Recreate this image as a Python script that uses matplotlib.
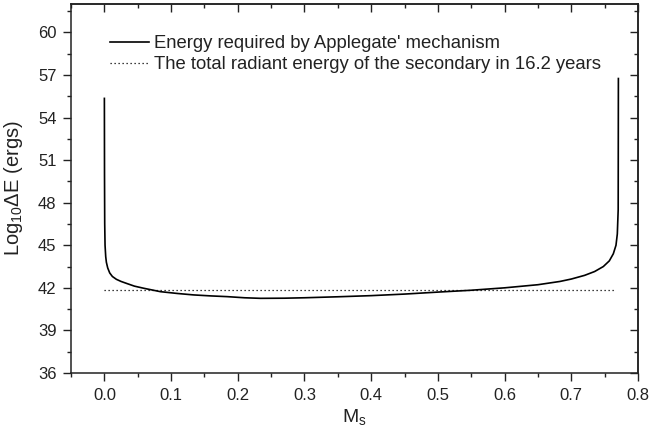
import matplotlib
matplotlib.use("Agg")
import matplotlib.pyplot as plt
from matplotlib.ticker import MultipleLocator

plt.rcParams['font.family'] = ['Liberation Sans', 'DejaVu Sans']
plt.rcParams['mathtext.default'] = 'regular'

# secondary mass and log10 of energy required by Applegate's mechanism
ms = [0.0, 0.0002, 0.0005, 0.001, 0.002, 0.003, 0.005, 0.008, 0.012, 0.018,
      0.025, 0.034, 0.045, 0.059, 0.084, 0.11, 0.134, 0.16, 0.184, 0.21,
      0.234, 0.27, 0.3, 0.35, 0.4, 0.45, 0.5, 0.55, 0.6, 0.65,
      0.683, 0.70, 0.72, 0.735, 0.748, 0.757, 0.763, 0.767, 0.769, 0.7703,
      0.7706]
log_e = [55.35, 50.0, 46.5, 45.0, 44.2, 43.8, 43.4, 43.05, 42.8, 42.6,
         42.45, 42.3, 42.12, 41.97, 41.73, 41.6, 41.5, 41.43, 41.38, 41.3,
         41.26, 41.27, 41.3, 41.37, 41.45, 41.56, 41.7, 41.83, 42.0, 42.22,
         42.45, 42.62, 42.88, 43.15, 43.5, 43.9, 44.4, 45.0, 45.8, 47.5,
         56.75]

# total radiant energy of the secondary in 16.2 years
rad_x = [0.0, 0.766]
rad_e = [41.88, 41.88]

ink = '#222222'
fig = plt.figure(figsize=(6.72, 4.37), dpi=100)
ax = fig.add_axes([0.1057, 0.1465, 0.8437, 0.8443])

ax.plot(ms, log_e, color='black', lw=1.2,
        label="Energy required by Applegate' mechanism")
ax.plot(rad_x, rad_e, color='black', lw=0.9, ls=(0, (1, 2.2)),
        label='The total radiant energy of the secondary in 16.2 years')

ax.set_xlim(-0.05, 0.8)
ax.set_ylim(36, 62)
ax.xaxis.set_major_locator(MultipleLocator(0.1))
ax.xaxis.set_minor_locator(MultipleLocator(0.05))
ax.yaxis.set_major_locator(MultipleLocator(3))
ax.yaxis.set_minor_locator(MultipleLocator(1.5))
ax.set_yticks([36, 39, 42, 45, 48, 51, 54, 57, 60])

for s in ax.spines.values():
    s.set_linewidth(1.1)
    s.set_color(ink)

ax.tick_params(which='both', direction='out', colors=ink, width=1.0,
               labelsize=12, top=False, right=False)
ax.tick_params(which='major', length=5.5, pad=5)
ax.tick_params(which='minor', length=3)

# inward ticks on top and right
ax2 = ax.secondary_xaxis('top')
ax2.xaxis.set_major_locator(MultipleLocator(0.1))
ax2.xaxis.set_minor_locator(MultipleLocator(0.05))
ax2.tick_params(which='both', direction='in', colors=ink, width=1.0, labeltop=False)
ax2.tick_params(which='major', length=5.5)
ax2.tick_params(which='minor', length=3)
ax3 = ax.secondary_yaxis('right')
ax3.yaxis.set_major_locator(MultipleLocator(3))
ax3.yaxis.set_minor_locator(MultipleLocator(1.5))
ax3.tick_params(which='both', direction='in', colors=ink, width=1.0, labelright=False)
ax3.tick_params(which='major', length=5.5)
ax3.tick_params(which='minor', length=3)
for a in (ax2, ax3):
    for s in a.spines.values():
        s.set_linewidth(1.1)
        s.set_color(ink)

ax.set_xlabel('$M_s$', fontsize=14, color=ink, labelpad=3)
ax.set_ylabel('$Log_{10}$ΔE (ergs)', fontsize=14.5, color=ink, labelpad=9)

leg = ax.legend(loc='upper left', bbox_to_anchor=(0.069, 0.915), frameon=False,
                fontsize=13.3, handlelength=2.1, handletextpad=0.3,
                labelspacing=0.2, borderpad=0, borderaxespad=0)
for t in leg.get_texts():
    t.set_color(ink)

fig.savefig('out.png', dpi=100)
